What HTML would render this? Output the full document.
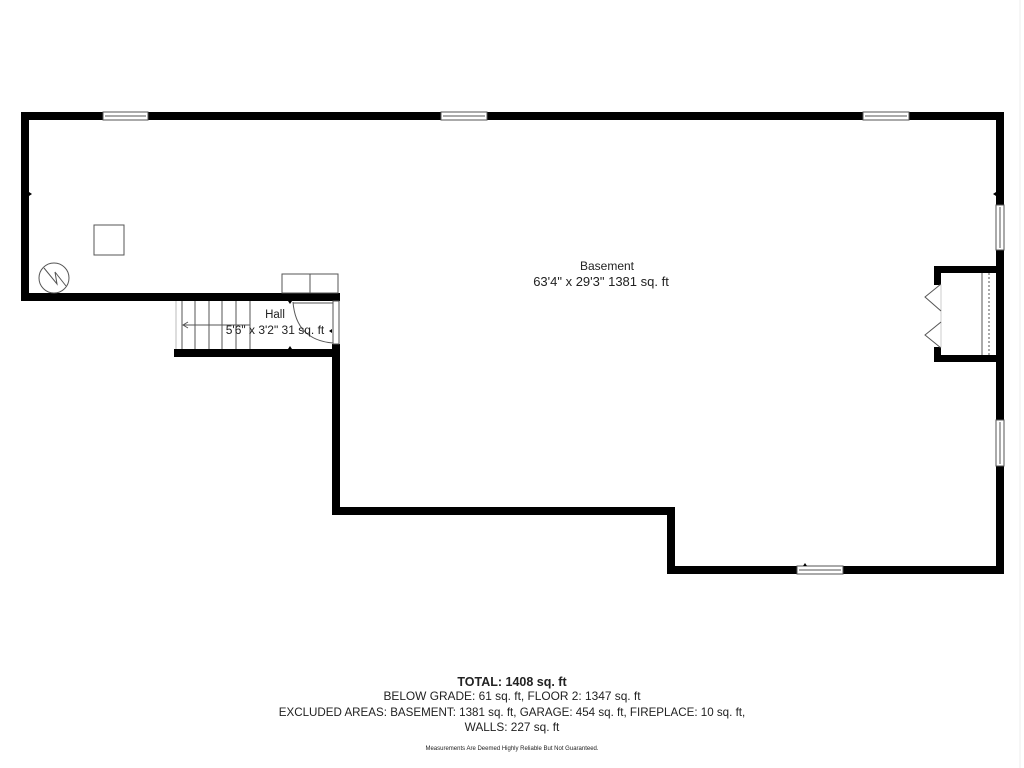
<!DOCTYPE html>
<html><head><style>
html,body{margin:0;padding:0;background:#fff;}
svg{display:block;}
text{font-family:"Liberation Sans",sans-serif;fill:#222;}
</style></head><body>
<svg width="1024" height="768" viewBox="0 0 1024 768" xmlns="http://www.w3.org/2000/svg">
<rect x="0" y="0" width="1024" height="768" fill="#fff"/>
<line x1="1020" y1="0" x2="1020" y2="768" stroke="#eee" stroke-width="1"/>
<g fill="#000">
<rect x="21" y="112" width="983" height="8"/>
<rect x="21" y="112" width="8" height="189"/>
<rect x="21" y="293" width="319" height="8"/>
<rect x="996" y="112" width="8" height="462"/>
<rect x="667" y="566" width="337" height="8"/>
<rect x="667" y="507" width="8" height="67"/>
<rect x="332" y="507" width="343" height="8"/>
<rect x="332" y="344" width="8" height="171"/>
<rect x="174" y="349" width="166" height="8"/>
<rect x="174" y="293" width="7" height="8"/>
<rect x="934" y="266" width="66" height="7"/>
<rect x="934" y="355" width="66" height="7"/>
<rect x="934" y="266" width="7" height="19"/>
<rect x="934" y="347" width="7" height="15"/>
</g>
<g fill="#fff" stroke="#555" stroke-width="1">
<rect x="103" y="112" width="45" height="8"/>
<rect x="441" y="112" width="46" height="8"/>
<rect x="863" y="112" width="46" height="8"/>
<rect x="996" y="205" width="8" height="45"/>
<rect x="996" y="420" width="8" height="46"/>
<rect x="797" y="566" width="46" height="8"/>
<rect x="333" y="301" width="6" height="43"/>
</g>
<g stroke="#555" stroke-width="1" fill="none">
<line x1="105" y1="116" x2="146" y2="116"/>
<line x1="443" y1="116" x2="485" y2="116"/>
<line x1="865" y1="116" x2="907" y2="116"/>
<line x1="1000" y1="207" x2="1000" y2="248"/>
<line x1="1000" y1="422" x2="1000" y2="464"/>
<line x1="799" y1="570" x2="841" y2="570"/>
<rect x="94" y="225" width="30" height="30"/>
<circle cx="54" cy="278" r="15"/>
<polyline points="44,268 57,284 55,272 66,286"/>
<rect x="282" y="274" width="56" height="19"/>
<line x1="310" y1="274" x2="310" y2="293"/>
<line x1="182" y1="301" x2="182" y2="349"/>
<line x1="195" y1="301" x2="195" y2="349"/>
<line x1="209" y1="301" x2="209" y2="349"/>
<line x1="222" y1="301" x2="222" y2="349"/>
<line x1="236" y1="301" x2="236" y2="349"/>
<line x1="250" y1="301" x2="250" y2="349"/>
<line x1="176" y1="301" x2="176" y2="349" stroke="#bbb"/>
<line x1="183" y1="325" x2="250" y2="325"/>
<polyline points="188,322 183,325 188,328"/>
<line x1="293" y1="303" x2="333" y2="303"/>
<path d="M293,302 Q296,340 333,343"/>
<line x1="941" y1="285" x2="941" y2="347" stroke="#ccc"/>
<polyline points="941,284 925,297 941,311"/>
<polyline points="941,322 925,335 941,348"/>
<line x1="982" y1="273" x2="982" y2="355"/>
<line x1="989" y1="273" x2="989" y2="355" stroke-dasharray="2,2"/>
</g>
<g fill="#000">
<polygon points="29,192 32,194 29,196"/>
<polygon points="996,192 993,194 996,196"/>
<polygon points="801,120 805,120 803,117"/>
<polygon points="288,301 292,301 290,304"/>
<polygon points="288,349 292,349 290,346"/>
<polygon points="332,329 329,331 332,333"/>
<polygon points="803,566 807,566 805,563"/>
</g>
<text x="607" y="270" font-size="12" text-anchor="middle">Basement</text>
<text x="601" y="286" font-size="13" text-anchor="middle">63'4" x 29'3" 1381 sq. ft</text>
<text x="275" y="318" font-size="11.5" text-anchor="middle">Hall</text>
<text x="275" y="334" font-size="12" text-anchor="middle">5'6" x 3'2" 31 sq. ft</text>
<text x="512" y="686" font-size="12.5" font-weight="bold" text-anchor="middle">TOTAL: 1408 sq. ft</text>
<text x="512" y="700" font-size="11.9" text-anchor="middle">BELOW GRADE: 61 sq. ft, FLOOR 2: 1347 sq. ft</text>
<text x="512" y="716" font-size="11.6" text-anchor="middle">EXCLUDED AREAS: BASEMENT: 1381 sq. ft, GARAGE: 454 sq. ft, FIREPLACE: 10 sq. ft,</text>
<text x="512" y="731" font-size="11.8" text-anchor="middle">WALLS: 227 sq. ft</text>
<text x="512" y="750" font-size="6" text-anchor="middle">Measurements Are Deemed Highly Reliable But Not Guaranteed.</text>
</svg>
</body></html>
